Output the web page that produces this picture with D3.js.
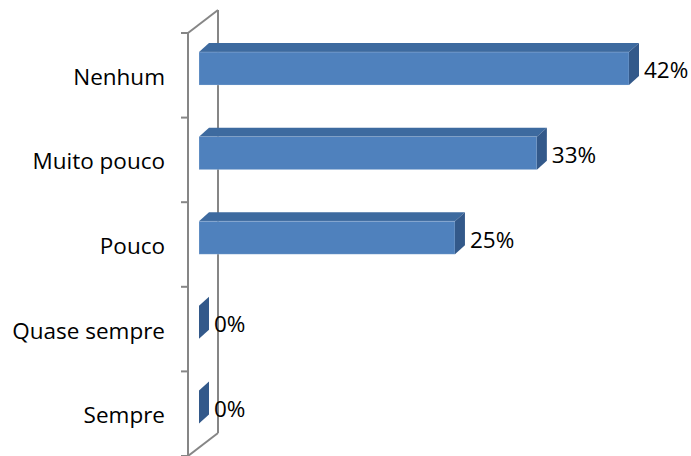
<!DOCTYPE html>
<html>
<head>
<meta charset="utf-8">
<script src="https://cdn.jsdelivr.net/npm/d3@7"></script>
<style>
  html, body { margin: 0; padding: 0; background: #ffffff; }
  svg { display: block; }
  text { font-family: "Open Sans", "Liberation Sans", sans-serif; fill: #000; }
</style>
</head>
<body>
<svg id="chart" width="691" height="456"></svg>
<script>
// Categories, top to bottom, and their shares
const categories = ["Nenhum", "Muito pouco", "Pouco", "Quase sempre", "Sempre"];
const shares = [0.42, 0.33, 0.25, 0, 0];
const shareLabels = ["42%", "33%", "25%", "0%", "0%"];

const W = 691, H = 456;
const svg = d3.select("#chart");

// Front edge of the side wall and its depth offset
const wallX = 188, wallTop = 33, wallBottom = 456;
const wallDepth = { dx: 30, dy: -23 };
// Depth offset of each bar
const barDepth = { dx: 10, dy: -9 };

const y = d3.scaleBand()
  .domain(categories)
  .range([wallTop, wallBottom])
  .padding(0);

const x = d3.scaleLinear()
  .domain([0, 0.42])
  .range([199, 629]);

const step = y.step();
const barOffset = step * 0.225;
const barH = step * 0.39;

const gridColor = "#868686";
const fontSize = 22.5;

// Back edge of the wall (drawn first so bars cover it)
svg.append("line")
  .attr("x1", wallX + wallDepth.dx).attr("y1", wallTop + wallDepth.dy)
  .attr("x2", wallX + wallDepth.dx).attr("y2", wallBottom + wallDepth.dy)
  .attr("stroke", gridColor).attr("stroke-width", 2);

// Top and bottom edges of the wall
[wallTop, wallBottom].forEach(yy => {
  svg.append("line")
    .attr("x1", wallX).attr("y1", yy)
    .attr("x2", wallX + wallDepth.dx).attr("y2", yy + wallDepth.dy)
    .attr("stroke", gridColor).attr("stroke-width", 2);
});

// Front edge / category axis
svg.append("line")
  .attr("x1", wallX).attr("y1", wallTop)
  .attr("x2", wallX).attr("y2", wallBottom)
  .attr("stroke", gridColor).attr("stroke-width", 2);

// Tick marks at band boundaries
const boundaries = categories.map(c => y(c)).concat([y(categories[categories.length - 1]) + step]);
svg.selectAll("line.tick")
  .data(boundaries)
  .enter().append("line")
  .attr("class", "tick")
  .attr("x1", wallX - 7).attr("x2", wallX)
  .attr("y1", d => d).attr("y2", d => d)
  .attr("stroke", gridColor).attr("stroke-width", 2);

// Category labels
svg.selectAll("text.cat")
  .data(categories)
  .enter().append("text")
  .attr("class", "cat")
  .attr("x", 165)
  .attr("y", d => y(d) + step / 2 + 9.5)
  .attr("text-anchor", "end")
  .attr("font-size", fontSize)
  .text(d => d);

// 3D bars: front, top and right side faces
const bars = svg.selectAll("g.bar")
  .data(categories.map((c, i) => ({ c, v: shares[i], label: shareLabels[i] })))
  .enter().append("g")
  .attr("class", "bar");

const dx = barDepth.dx, dy = barDepth.dy;

bars.append("path")
  .attr("fill", "#3D6A9F")
  .attr("d", d => {
    const x0 = x(0), x1 = x(d.v), t = y(d.c) + barOffset;
    return `M${x0},${t} L${x0 + dx},${t + dy} L${x1 + dx},${t + dy} L${x1},${t} Z`;
  });

bars.append("rect")
  .attr("fill", "#4F81BD")
  .attr("stroke", "rgba(255,255,255,0.25)")
  .attr("stroke-width", 0.8)
  .attr("x", x(0))
  .attr("y", d => y(d.c) + barOffset)
  .attr("width", d => x(d.v) - x(0))
  .attr("height", barH)
  .attr("display", d => d.v > 0 ? null : "none");

bars.append("path")
  .attr("fill", "#33598A")
  .attr("d", d => {
    const x1 = x(d.v), t = y(d.c) + barOffset, b = t + barH;
    return `M${x1},${t} L${x1 + dx},${t + dy} L${x1 + dx},${b + dy} L${x1},${b} Z`;
  });

// Value labels
bars.append("text")
  .attr("x", d => x(d.v) + dx + 5)
  .attr("y", d => y(d.c) + step / 2 + 3)
  .attr("font-size", fontSize)
  .text(d => d.label);
</script>
</body>
</html>
